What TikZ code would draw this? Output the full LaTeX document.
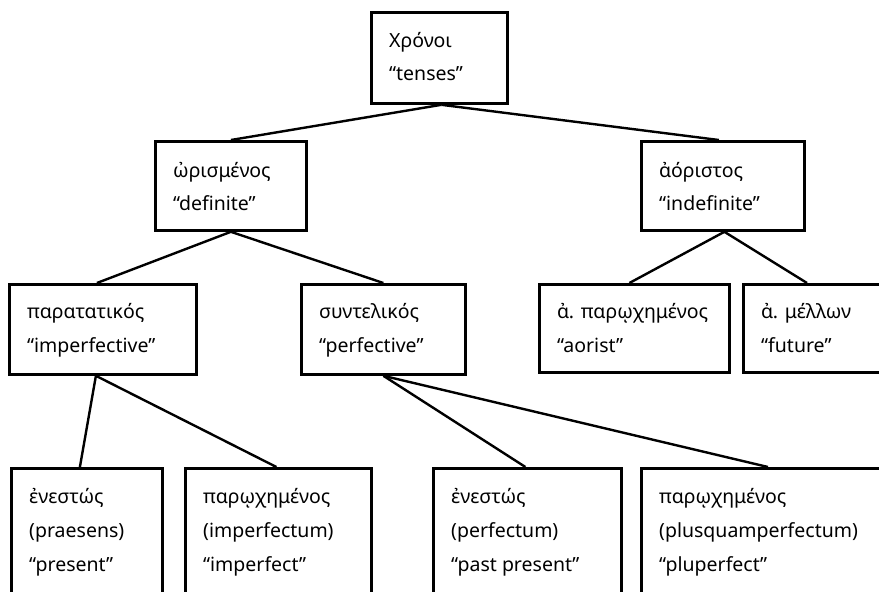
\documentclass[tikz,border=0pt]{standalone}
\usepackage{fontspec}
\setmainfont{Noto Sans}
\begin{document}
\begin{tikzpicture}[x=1pt,y=-1pt,
  tbox/.style={draw, line width=2.8pt, rectangle, inner sep=0pt, anchor=north west},
  lbl/.style={anchor=base west, inner sep=0pt, font=\fontsize{19.5}{23}\selectfont},
  link/.style={line width=2.4pt}]
\useasboundingbox (0,0) rectangle (879,592);
\clip (0,0) rectangle (879,592);
% boxes
\node[tbox, minimum width=136pt, minimum height=91pt] (top) at (370,11) {};
\node[tbox, minimum width=151pt, minimum height=89pt] (def) at (154,140) {};
\node[tbox, minimum width=163pt, minimum height=89pt] (indef) at (640,140) {};
\node[tbox, minimum width=187pt, minimum height=90pt] (impf) at (8,283) {};
\node[tbox, minimum width=164pt, minimum height=90pt] (perf) at (300,283) {};
\node[tbox, minimum width=190pt, minimum height=88pt] (aor) at (538,283) {};
\node[tbox, minimum width=200pt, minimum height=88pt] (fut) at (742,283) {};
\node[tbox, minimum width=151pt, minimum height=160pt] (pres) at (10,467) {};
\node[tbox, minimum width=186pt, minimum height=160pt] (imp) at (184,467) {};
\node[tbox, minimum width=188pt, minimum height=160pt] (pp) at (432,467) {};
\node[tbox, minimum width=300pt, minimum height=160pt] (plup) at (640,467) {};
% texts
\node[lbl] (t1) at ([shift={(19,36)}]top.north west) {Χρόνοι};
\node[lbl] (t2) at ([shift={(19,69)}]top.north west) {“tenses”};
\node[lbl] (d1) at ([shift={(19,37)}]def.north west) {ὠρισμένος};
\node[lbl] (d2) at ([shift={(19,70)}]def.north west) {“definite”};
\node[lbl] (i1) at ([shift={(19,37)}]indef.north west) {ἀόριστος};
\node[lbl] (i2) at ([shift={(19,70)}]indef.north west) {“indefinite”};
\node[lbl] (p1) at ([shift={(19,35)}]impf.north west) {παρατατικός};
\node[lbl] (p2) at ([shift={(19,69)}]impf.north west) {“imperfective”};
\node[lbl] (s1) at ([shift={(19,35)}]perf.north west) {συντελικός};
\node[lbl] (s2) at ([shift={(19,69)}]perf.north west) {“perfective”};
\node[lbl] (a1) at ([shift={(19,35)}]aor.north west) {ἀ. παρῳχημένος};
\node[lbl] (a2) at ([shift={(19,69)}]aor.north west) {“aorist”};
\node[lbl] (f1) at ([shift={(19,35)}]fut.north west) {ἀ. μέλλων};
\node[lbl] (f2) at ([shift={(19,69)}]fut.north west) {“future”};
\node[lbl] (e1) at ([shift={(19,36)}]pres.north west) {ἐνεστώς};
\node[lbl] (e2) at ([shift={(19,70)}]pres.north west) {(praesens)};
\node[lbl] (e3) at ([shift={(19,104)}]pres.north west) {“present”};
\node[lbl] (m1) at ([shift={(19,36)}]imp.north west) {παρῳχημένος};
\node[lbl] (m2) at ([shift={(19,70)}]imp.north west) {(imperfectum)};
\node[lbl] (m3) at ([shift={(19,104)}]imp.north west) {“imperfect”};
\node[lbl] (n1) at ([shift={(19,36)}]pp.north west) {ἐνεστώς};
\node[lbl] (n2) at ([shift={(19,70)}]pp.north west) {(perfectum)};
\node[lbl] (n3) at ([shift={(19,104)}]pp.north west) {“past present”};
\node[lbl] (q1) at ([shift={(19,36)}]plup.north west) {παρῳχημένος};
\node[lbl] (q2) at ([shift={(19,70)}]plup.north west) {(plusquamperfectum)};
\node[lbl] (q3) at ([shift={(19,104)}]plup.north west) {“pluperfect”};
% connectors
\draw[link] ([xshift=2pt]top.south) -- (def.north);
\draw[link] ([xshift=2pt]top.south) -- ([xshift=-4pt]indef.north);
\draw[link] (def.south) -- ([xshift=-6pt]impf.north);
\draw[link] (def.south) -- (perf.north);
\draw[link] ([xshift=1.5pt]indef.south) -- ([xshift=-5pt]aor.north);
\draw[link] ([xshift=1.5pt]indef.south) -- ([xshift=65pt]fut.north west);
\draw[link] ([xshift=-7pt]impf.south) -- ([xshift=-7pt]pres.north);
\draw[link] ([xshift=-7pt]impf.south) -- ([xshift=-2pt]imp.north);
\draw[link] (perf.south) -- ([xshift=-2pt]pp.north);
\draw[link] (perf.south) -- ([xshift=128pt]plup.north west);
\end{tikzpicture}
\end{document}
